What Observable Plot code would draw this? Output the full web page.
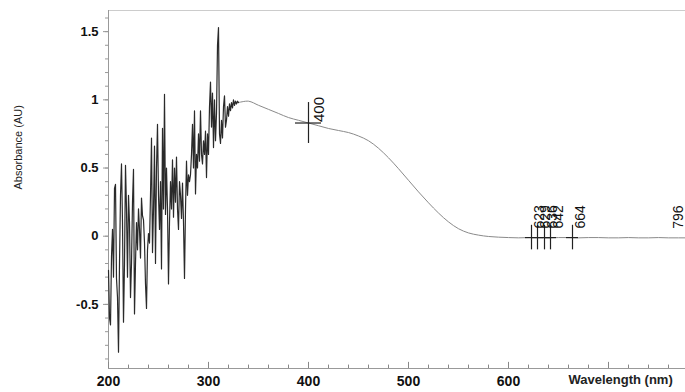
<!DOCTYPE html>
<html><head><meta charset="utf-8">
<script src="https://cdn.jsdelivr.net/npm/d3@7"></script>
<script src="https://cdn.jsdelivr.net/npm/@observablehq/plot@0.6"></script>
<style>
html,body{margin:0;padding:0;background:#fff;overflow:hidden}
</style></head><body><div id="chart"></div>
<script>
// Noisy region, 1 nm steps from 200 nm to 330 nm
const noisyStartNm = 200;
const noisyAbs = [
  -0.25, -0.6, -0.65, -0.15, 0.05, -0.3, 0.35, 0.38, -0.31, -0.45,
  -0.85, -0.2, 0.3, 0.53, 0.1, -0.63, -0.2, 0.52, 0.2, -0.3,
  0.3, 0.1, -0.45, -0.2, 0.25, 0.49, -0.57, -0.2, 0.1, -0.1,
  0.2, 0.05, -0.16, 0.28, 0.15, 0.12, -0.05, -0.35, -0.53, -0.1,
  0.02, -0.05, 0.3, 0.72, -0.12, 0.2, 0.66, -0.2, 0.5, 0.82,
  0.3, 0.05, 0.4, -0.24, 0.79, 0.2, 1.04, 0.16, 0.5, 0.2,
  -0.35, 0.1, 0.4, 0.2, 0.56, 0.14, 0.5, 0.25, 0.58, 0.2,
  0.05, 0.4, 0.3, 0.13, 0.39, 0.1, -0.31, 0.2, 0.55, 0.3,
  0.45, 0.4, 0.45, 0.6, 0.82, 0.5, 0.92, 0.31, 0.6, 0.5,
  0.75, 0.55, 0.92, 0.6, 0.53, 0.7, 0.6, 0.77, 0.43, 0.75,
  0.6, 0.95, 1.13, 0.8, 1.05, 0.65, 1.0, 0.7, 0.9, 1.4,
  1.53, 0.75, 0.68, 0.85, 0.72, 0.95, 1.03, 0.8, 0.85, 0.95,
  0.88, 0.97, 0.92, 0.98, 0.94, 1.0, 0.96, 0.99, 0.97, 0.99,
  0.98
];
// Smooth region
const smoothWl = [330,340,350,360,370,380,390,400,410,420,430,440,450,460,470,480,490,500,510,520,530,540,550,560,570,580,590,600,610,620,630,640,650,660,670,680,690,700,710,720,730,740,750,760,770,780,790,800];
const smoothAbs = [0.98,0.99,0.96,0.93,0.90,0.87,0.85,0.83,0.81,0.79,0.775,0.76,0.735,0.70,0.645,0.575,0.495,0.41,0.325,0.245,0.17,0.105,0.055,0.024,0.008,-0.002,-0.007,-0.01,-0.012,-0.01,-0.01,-0.012,-0.01,-0.01,-0.012,-0.01,-0.01,-0.012,-0.012,-0.01,-0.012,-0.012,-0.01,-0.012,-0.012,-0.012,-0.012,-0.012];
// Peak markers
const peakWl = [400, 623, 629, 636, 642, 664, 796];
const peakAbs = [0.83, -0.01, -0.01, -0.01, -0.01, -0.01, -0.012];
// Axes
const xTicks = [200, 300, 400, 500, 600, 700];
const xTickLabels = ["200", "300", "400", "500", "600", ""];
const yTicks = [-0.5, 0, 0.5, 1, 1.5];
const yTickLabels = ["-0.5", "0", "0.5", "1", "1.5"];
const xTitle = "Wavelength (nm)";
const yTitle = "Absorbance (AU)";

const noisy = noisyAbs.map((a, i) => ({wl: noisyStartNm + i, abs: a}));
const smooth = smoothWl.map((w, i) => ({wl: w, abs: smoothAbs[i]}));
const peaks = peakWl.map((w, i) => ({wl: w, abs: peakAbs[i], big: i === 0}));

const xDom = [200, 777];
const yDom = [-0.97, 1.655];
const xMinor = d3.range(xDom[0], 800, 20);
const yMinor = d3.range(-9, 17).map(k => k / 10);
const xLabelled = xTicks.filter((d, i) => xTickLabels[i] !== "");

const chart = Plot.plot({
  width: 685, height: 392,
  marginLeft: 108, marginRight: 0, marginTop: 10, marginBottom: 24,
  x: {domain: xDom},
  y: {domain: yDom},
  style: {fontFamily: "'Liberation Sans', Arial, sans-serif", background: "#fff", color: "#111"},
  marks: [
    Plot.ruleY([yDom[1]], {stroke: "#ccc"}),
    Plot.ruleX([xDom[0]], {stroke: "#999"}),
    Plot.ruleY([yDom[0]], {stroke: "#999"}),
    Plot.ruleX(xMinor, {y1: yDom[0], y2: yDom[0] + 0.025, stroke: "#888"}),
    Plot.ruleX(xTicks, {y1: yDom[0], y2: yDom[0] + 0.045, stroke: "#888"}),
    Plot.axisX(xLabelled, {tickSize: 0, tickPadding: 8, fontSize: 14, fontWeight: "bold", tickFormat: d => xTickLabels[xTicks.indexOf(d)], label: null}),
    Plot.axisY(yMinor, {tickSize: 3, text: null, stroke: "#999", label: null}),
    Plot.axisY(yTicks, {tickSize: 5, tickPadding: 5, fontSize: 13, fontWeight: "bold", stroke: "#999", tickFormat: d => yTickLabels[yTicks.indexOf(d)], label: null}),
    Plot.text([yTitle], {frameAnchor: "left", rotate: -90, dx: -90, fontSize: 11, fill: "#222"}),
    Plot.text([xTitle], {frameAnchor: "bottom-right", textAnchor: "start", dx: -117, dy: 15, fontSize: 13, fontWeight: "bold", fill: "#222"}),
    Plot.line(smooth, {x: "wl", y: "abs", stroke: "#8a8a8a", strokeWidth: 1, curve: "catmull-rom"}),
    Plot.line(noisy, {x: "wl", y: "abs", stroke: "#2a2a2a", strokeWidth: 1.2}),
    // crosshair markers
    Plot.ruleX(peaks, {x: "wl", y1: d => d.abs - (d.big ? 0.15 : 0.09), y2: d => d.abs + (d.big ? 0.15 : 0.09), stroke: "#222", strokeWidth: 1.2}),
    Plot.ruleY(peaks, {y: "abs", x1: d => d.wl - (d.big ? 13 : 6), x2: d => d.wl + (d.big ? 13 : 6), stroke: "#222", strokeWidth: 1.2}),
    Plot.text(peaks.filter(d => d.big), {x: "wl", y: "abs", text: d => String(d.wl), rotate: -90, textAnchor: "start", lineAnchor: "middle", dx: 11, dy: -1, fontSize: 15, fill: "#111"}),
    Plot.text(peaks.filter(d => !d.big && d.wl < xDom[1]), {x: "wl", y: "abs", text: d => String(d.wl), rotate: -90, textAnchor: "start", lineAnchor: "middle", dx: 8, dy: -9, fontSize: 14, fill: "#111"}),
    Plot.text(peaks.filter(d => d.wl >= xDom[1]), {x: "wl", y: "abs", text: d => String(d.wl), rotate: -90, textAnchor: "start", lineAnchor: "middle", dx: -26, dy: -9, fontSize: 14, fill: "#111"})
  ]
});
document.getElementById("chart").appendChild(chart);
</script>
</body></html>
